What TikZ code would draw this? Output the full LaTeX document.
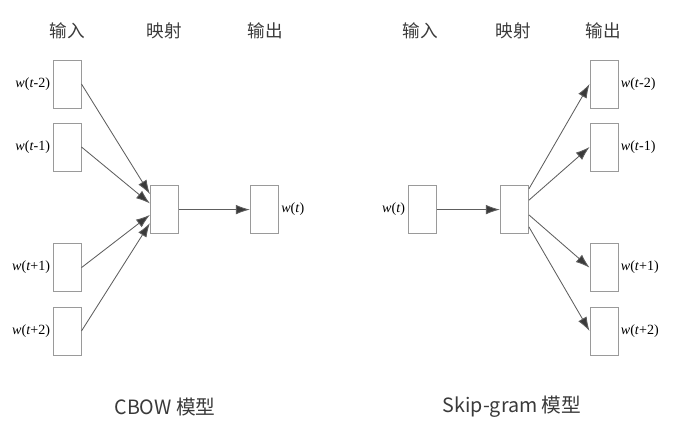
\documentclass[tikz,border=0pt]{standalone}
\usepackage{fontspec}
\newfontfamily\cjk{Noto Sans CJK SC}
\newfontfamily\lblfont{Liberation Serif}
\usetikzlibrary{arrows.meta}
\definecolor{boxgray}{HTML}{9A9A9A}
\definecolor{arrgray}{HTML}{5E5E5E}
\definecolor{tipgray}{HTML}{3A3A3A}
\definecolor{txtgray}{HTML}{3A3A3A}
\newcommand{\wlab}[1]{{\lblfont\fontsize{10}{12}\selectfont\textit{w}(\textit{t}#1)}}

\begin{document}
\begin{tikzpicture}[
  wbox/.style={draw=boxgray,line width=.7pt,minimum width=7mm,minimum height=12mm,inner sep=0pt},
  hdr/.style={font=\cjk\fontsize{12.5}{14}\selectfont,text=txtgray},
  capt/.style={font=\cjk\fontsize{14}{16}\selectfont,text=txtgray},
  conn/.style={draw=arrgray,line width=.6pt,-{Latex[length=3.5mm,width=2.4mm,fill=tipgray]}},
  every node/.style={inner sep=1.5pt}]
  \useasboundingbox (0,0) rectangle (17.275,10.65);
  % CBOW
  \node[hdr] (h1) at (1.675,9.875) {输入};
  \node[hdr] (h2) at (4.1,9.875) {映射};
  \node[hdr] (h3) at (6.625,9.875) {输出};
  \node[wbox] (I1) at (1.675,8.55) {};
  \node[wbox] (I2) at (1.675,6.975) {};
  \node[wbox] (I3) at (1.675,3.96) {};
  \node[wbox] (I4) at (1.675,2.375) {};
  \node[wbox] (P) at (4.11,5.41) {};
  \node[wbox] (Y) at (6.61,5.41) {};
  \node[left] (w1) at (I1.west) {\wlab{-2}};
  \node[left] (w2) at (I2.west) {\wlab{-1}};
  \node[left] (w3) at (I3.west) {\wlab{+1}};
  \node[left] (w4) at (I4.west) {\wlab{+2}};
  \node[right] (wy) at (Y.east) {\wlab{}};
  \draw[conn] (I1.east) -- (P.133);
  \draw[conn] (I2.east) -- (P.157);
  \draw[conn] (I3.east) -- (P.200);
  \draw[conn] (I4.east) -- (P.223);
  \draw[conn] (P.east) -- (Y.west);
  \node[capt] (c1) at (4.125,0.475) {CBOW 模型};
  % Skip-gram
  \node[hdr] (k1) at (10.5,9.875) {输入};
  \node[hdr] (k2) at (12.825,9.875) {映射};
  \node[hdr] (k3) at (15.075,9.875) {输出};
  \node[wbox] (X) at (10.55,5.41) {};
  \node[wbox] (Q) at (12.86,5.41) {};
  \node[wbox] (O1) at (15.1,8.55) {};
  \node[wbox] (O2) at (15.1,6.975) {};
  \node[wbox] (O3) at (15.1,3.96) {};
  \node[wbox] (O4) at (15.1,2.375) {};
  \node[left] (wx) at (X.west) {\wlab{}};
  \node[right] (v1) at (O1.east) {\wlab{-2}};
  \node[right] (v2) at (O2.east) {\wlab{-1}};
  \node[right] (v3) at (O3.east) {\wlab{+1}};
  \node[right] (v4) at (O4.east) {\wlab{+2}};
  \draw[conn] (X.east) -- (Q.west);
  \draw[conn] (Q.55) -- (O1.west);
  \draw[conn] (Q.33) -- (O2.west);
  \draw[conn] (Q.340) -- (O3.west);
  \draw[conn] (Q.310) -- (O4.west);
  \node[capt] (c2) at (12.8,0.475) {Skip-gram 模型};
\end{tikzpicture}
\end{document}
